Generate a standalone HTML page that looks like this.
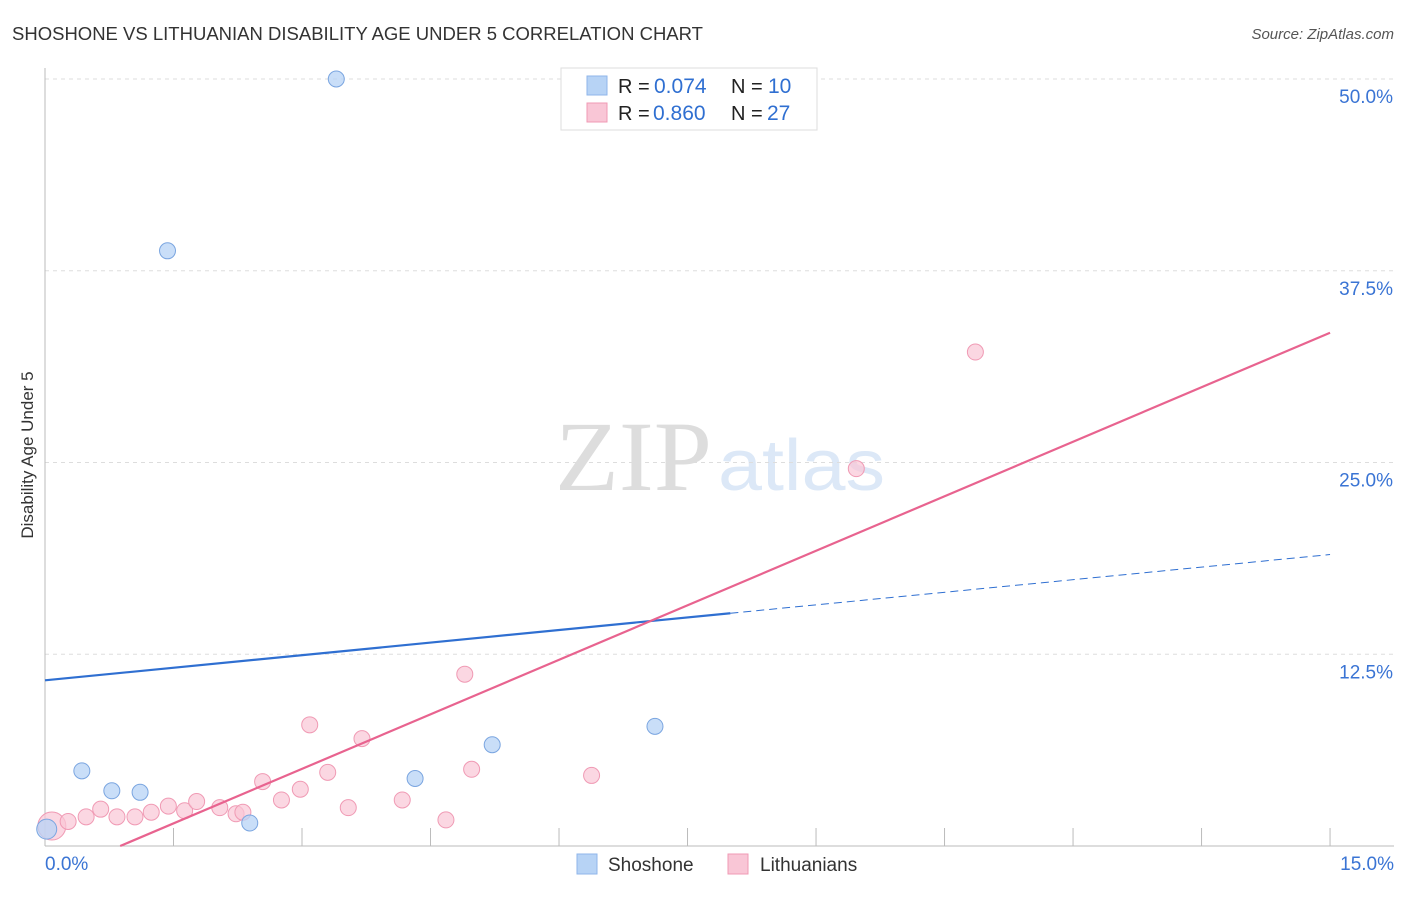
<!DOCTYPE html>
<html><head><meta charset="utf-8"><style>
body{margin:0;background:#fff;font-family:"Liberation Sans",sans-serif;}
</style></head><body>
<svg id="c" width="1406" height="892" xmlns="http://www.w3.org/2000/svg">
<text x="12" y="40" font-size="18" fill="#333" textLength="691" lengthAdjust="spacingAndGlyphs">SHOSHONE VS LITHUANIAN DISABILITY AGE UNDER 5 CORRELATION CHART</text>
<text x="1394" y="39" font-size="15" fill="#555" font-style="italic" text-anchor="end">Source: ZipAtlas.com</text>
<text x="33" y="455" font-size="17" fill="#333" text-anchor="middle" transform="rotate(-90 33 455)">Disability Age Under 5</text>
<text x="555" y="490" font-size="100" fill="#ddd" textLength="157" lengthAdjust="spacingAndGlyphs" font-family="Liberation Serif,serif">ZIP</text>
<text x="718" y="490" font-size="72" fill="#dce8f7" textLength="167" lengthAdjust="spacingAndGlyphs">atlas</text>
<g id="grid"></g><g id="marks"></g>
<g>
<rect x="561" y="68" width="256" height="62" fill="#fff" stroke="#ddd"/>
<rect x="587" y="76" width="20" height="19" fill="#b7d3f5" stroke="#8fb6ea"/>
<rect x="587" y="103" width="20" height="19" fill="#f9c6d6" stroke="#f09ab4"/>
<text x="618" y="93" font-size="20" fill="#222">R =</text><text x="654" y="93" font-size="21" fill="#2f6fd1">0.074</text>
<text x="731" y="93" font-size="20" fill="#222">N =</text><text x="768" y="93" font-size="21" fill="#2f6fd1">10</text>
<text x="618" y="120" font-size="20" fill="#222">R =</text><text x="653" y="120" font-size="21" fill="#2f6fd1">0.860</text>
<text x="731" y="120" font-size="20" fill="#222">N =</text><text x="767" y="120" font-size="21" fill="#2f6fd1">27</text>
</g>
<g>
<rect x="577" y="854" width="20" height="20" fill="#b7d3f5" stroke="#8fb6ea"/>
<text x="608" y="871" font-size="19" fill="#333">Shoshone</text>
<rect x="728" y="854" width="20" height="20" fill="#f9c6d6" stroke="#f09ab4"/>
<text x="760" y="871" font-size="19" fill="#333">Lithuanians</text>
</g>
</svg>
<script>
const yTicks=[12.5,25,37.5,50];
const yTickLabels=["12.5%","25.0%","37.5%","50.0%"];
const blueX=[0.02,0.43,0.78,1.11,1.43,2.39,3.40,4.32,5.22,7.12];
const blueY=[1.1,4.9,3.6,3.5,38.8,1.5,50.0,4.4,6.6,7.8];
const pinkX=[0.08,0.27,0.48,0.65,0.84,1.05,1.24,1.44,1.63,1.77,2.04,2.23,2.31,2.54,2.76,2.98,3.09,3.30,3.54,3.70,4.17,4.68,4.90,4.98,6.38,9.47,10.86];
const pinkY=[1.3,1.6,1.9,2.4,1.9,1.9,2.2,2.6,2.3,2.9,2.5,2.1,2.2,4.2,3.0,3.7,7.9,4.8,2.5,7.0,3.0,1.7,11.2,5.0,4.6,24.6,32.2];
const blueLine=[10.8,19.0], blueSolidEnd=8.0;
const pinkLine=[-2.08,33.46];
const X=v=>45+v*85.67, Y=v=>846-v*15.34;
const NS="http://www.w3.org/2000/svg";
const g=document.getElementById('grid'), m=document.getElementById('marks');
function el(t,a,p){const e=document.createElementNS(NS,t);for(const k in a)e.setAttribute(k,a[k]);p.appendChild(e);return e;}
yTicks.forEach((t,i)=>{
 const l=el('line',{x1:45,x2:1394,y1:Y(t),y2:Y(t),stroke:'#ddd','stroke-dasharray':'4 4'},g);
 
 
 const tx=el('text',{x:1393,y:Y(t)+24,'font-size':19,fill:'#3a74d4','text-anchor':'end'},g);
 tx.textContent=yTickLabels[i];
 
 
});
const ax=el('line',{x1:45,x2:45,y1:68,y2:846,stroke:'#bbb'},g);


const bx=el('line',{x1:45,x2:1394,y1:846,y2:846,stroke:'#bbb'},g);


for(let i=0;i<=10;i++){const t=el('line',{x1:X(i*1.5),x2:X(i*1.5),y1:828,y2:846,stroke:'#bbb'},g);
 
 }
[["0.0%",45,'start'],["15.0%",1394,'end']].forEach(a=>{const t=el('text',{x:a[1],y:870,'font-size':19,fill:'#3a74d4','text-anchor':a[2]},g);t.textContent=a[0];
 
 });
pinkX.forEach((x,i)=>{const c=el('circle',{cx:X(x),cy:Y(pinkY[i]),r:i==0?14:8,fill:'#f9c6d6','fill-opacity':0.7,stroke:'#f09ab4'},m);
 
 });
blueX.forEach((x,i)=>{const c=el('circle',{cx:X(x),cy:Y(blueY[i]),r:i==0?10:8,fill:'#b7d3f5','fill-opacity':0.75,stroke:'#7aa5e0'},m);
 
 });
const bv=x=>blueLine[0]+(blueLine[1]-blueLine[0])*x/15;
const b1=el('line',{x1:X(0),y1:Y(bv(0)),x2:X(blueSolidEnd),y2:Y(bv(blueSolidEnd)),stroke:'#2f6fd1','stroke-width':2.2},m);


const b2=el('line',{x1:X(blueSolidEnd),y1:Y(bv(blueSolidEnd)),x2:X(15),y2:Y(bv(15)),stroke:'#2f6fd1','stroke-width':1,'stroke-dasharray':'8 5'},m);


const pv=x=>pinkLine[0]+(pinkLine[1]-pinkLine[0])*x/15;
const x0=-pinkLine[0]*15/(pinkLine[1]-pinkLine[0]);
const p=el('line',{x1:X(x0),y1:Y(0),x2:X(15),y2:Y(pv(15)),stroke:'#e8638f','stroke-width':2.2},m);


</script>
</body></html>
